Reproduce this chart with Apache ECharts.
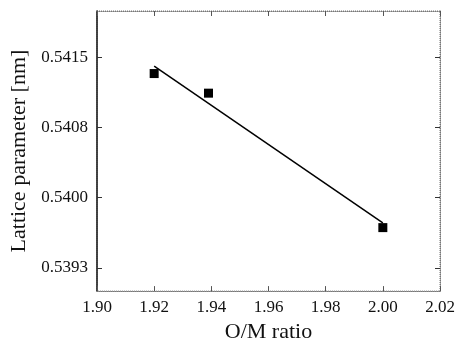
<!DOCTYPE html>
<html>
<head>
<meta charset="utf-8">
<script src="https://cdn.jsdelivr.net/npm/echarts@6/dist/echarts.min.js"></script>
<style>
  html, body { margin: 0; padding: 0; background: #fff; }
  #chart { width: 459px; height: 348px; }
</style>
</head>
<body>
<div id="chart"></div>
<script>
// measured points (O/M ratio vs lattice parameter)
const omRatio = [1.92, 1.939, 2.00];
const latticeNm = [0.54133, 0.54112, 0.53968];

// linear fit line at its two ends
const fitX = [1.92, 2.00];
const fitY = [0.54141, 0.53973];

const xTicks = [1.90, 1.92, 1.94, 1.96, 1.98, 2.00, 2.02];
const yTickValues = [0.53925, 0.54000, 0.54075, 0.54150];
const yTickLabels = ["0.5393", "0.5400", "0.5408", "0.5415"];

const FONT = "Liberation Serif, Times New Roman, serif";
const chart = echarts.init(document.getElementById("chart"), null, { renderer: "canvas" });

const yLabel = (v) => {
  const i = yTickValues.findIndex((t) => Math.abs(t - v) < 1e-7);
  return i >= 0 ? yTickLabels[i] : "";
};

const xAxisBase = {
  type: "value",
  min: 1.90,
  max: 2.02,
  interval: 0.02,
  splitLine: { show: false },
  axisTick: { inside: true, length: 5, lineStyle: { color: "#555" } },
};
const yAxisBase = {
  type: "value",
  min: 0.539,
  max: 0.542,
  splitLine: { show: false },
  axisTick: { inside: true, length: 5, customValues: yTickValues, lineStyle: { color: "#333" } },
};

chart.setOption({
  animation: false,
  textStyle: { fontFamily: FONT, color: "#111" },
  grid: {
    left: 97, top: 11, right: 19, bottom: 52,
    show: true, borderColor: "#777", borderWidth: 1, borderType: "dotted",
  },
  xAxis: [
    {
      ...xAxisBase,
      position: "bottom",
      name: "O/M ratio",
      nameLocation: "middle",
      nameGap: 29,
      nameTextStyle: { fontFamily: FONT, fontSize: 22, color: "#111" },
      axisLine: { lineStyle: { color: "#777", type: "dotted" } },
      axisLabel: {
        margin: 8, fontFamily: FONT, fontSize: 17, color: "#111",
        formatter: (v) => v.toFixed(2),
      },
    },
    {
      ...xAxisBase,
      position: "top",
      axisLine: { lineStyle: { color: "#777", type: "dotted" } },
      axisLabel: { show: false },
    },
  ],
  yAxis: [
    {
      ...yAxisBase,
      position: "left",
      name: "Lattice parameter [nm]",
      nameLocation: "middle",
      nameGap: 62,
      nameTextStyle: { fontFamily: FONT, fontSize: 22, color: "#111" },
      axisLine: { show: true, lineStyle: { color: "#111", width: 1.5 } },
      axisLabel: {
        margin: 9, fontFamily: FONT, fontSize: 17, color: "#111",
        customValues: yTickValues, formatter: yLabel,
      },
    },
    {
      ...yAxisBase,
      position: "right",
      axisLine: { show: true, lineStyle: { color: "#777", type: "dotted" } },
      axisLabel: { show: false },
    },
  ],
  series: [
    {
      name: "fit",
      type: "line",
      showSymbol: false,
      silent: true,
      lineStyle: { color: "#000", width: 1.5 },
      data: fitX.map((x, i) => [x, fitY[i]]),
    },
    {
      name: "data",
      type: "scatter",
      symbol: "rect",
      symbolSize: 9,
      itemStyle: { color: "#000", opacity: 1 },
      data: omRatio.map((x, i) => [x, latticeNm[i]]),
    },
  ],
});
</script>
</body>
</html>
